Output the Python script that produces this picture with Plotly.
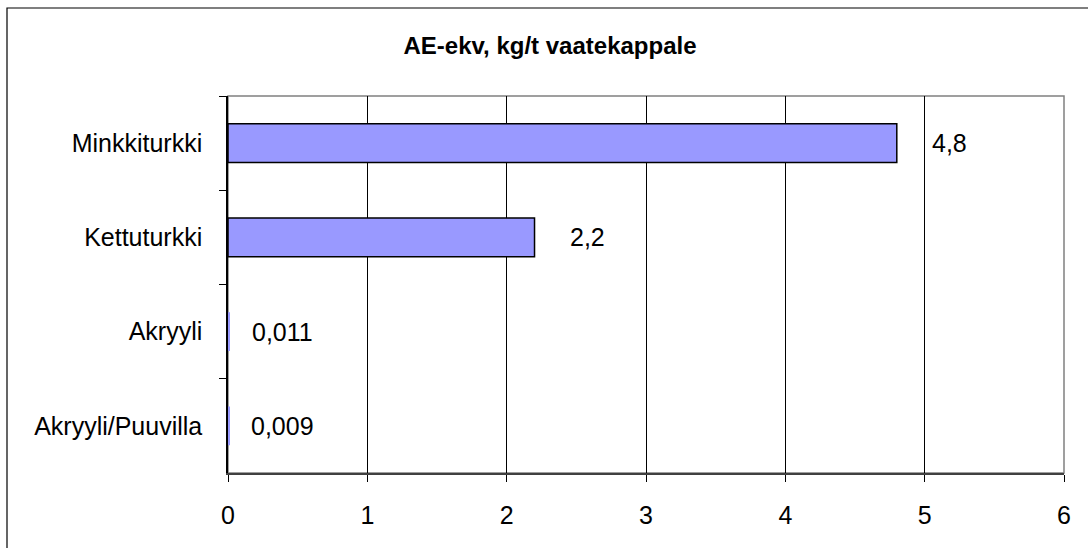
import plotly.graph_objects as go

categories = ["Minkkiturkki", "Kettuturkki", "Akryyli", "Akryyli/Puuvilla"]
values = [4.8, 2.2, 0.011, 0.009]
value_labels = ["4,8", "2,2", "0,011", "0,009"]
x_ticks = [0, 1, 2, 3, 4, 5, 6]

FONT = "Liberation Sans, Arial, sans-serif"
FS = 25

fig = go.Figure()
fig.add_trace(go.Bar(
    y=categories, x=values, orientation="h",
    width=0.41,
    marker=dict(color="#9999FF",
                line=dict(color="black", width=[1.5 if v > 0.1 else 0 for v in values])),
    hoverinfo="x+y",
))

for c, v, t in zip(categories, values, value_labels):
    fig.add_annotation(x=v, y=c, text=t, showarrow=False, xanchor="center",
                       xshift=53, font=dict(family=FONT, size=FS, color="black"))

L, R, T, B = 228, 24, 96, 75
W, H = 1088, 548
pw, ph = W - L - R, H - T - B

def px(x):
    return (x - L) / pw

def py(y):
    return (H - B - y) / ph

# outer chart frame
fig.add_shape(type="rect", xref="paper", yref="paper",
              x0=px(7), x1=px(1095), y0=py(555), y1=py(8),
              line=dict(color="black", width=1.2), layer="below")
# plot area frame (top/right gray)
fig.add_shape(type="rect", xref="paper", yref="paper",
              x0=0, x1=1, y0=0, y1=1,
              line=dict(color="#808080", width=1.5), layer="below")

fig.update_layout(
    width=W, height=H,
    margin=dict(l=L, r=R, t=T, b=B),
    paper_bgcolor="white", plot_bgcolor="white",
    showlegend=False,
    title=dict(text="<b>AE-ekv, kg/t vaatekappale</b>", x=550 / W, xanchor="center",
               y=1 - 46 / H, yanchor="middle",
               font=dict(family=FONT, size=24, color="black")),
    font=dict(family=FONT, size=FS, color="black"),
)
fig.update_xaxes(range=[0, 6], tickvals=x_ticks, ticktext=[str(v) for v in x_ticks],
                 showgrid=True, gridcolor="black", gridwidth=1,
                 showline=True, linecolor="#404040", linewidth=1.5,
                 ticks="outside", ticklen=7, tickcolor="black", tickwidth=1,
                 ticklabelstandoff=12,
                 zeroline=False, tickfont=dict(family=FONT, size=FS), fixedrange=True)
fig.update_yaxes(autorange="reversed", type="category",
                 showline=True, linecolor="black", linewidth=1.5,
                 ticks="outside", ticklen=7, tickcolor="black", tickwidth=1,
                 tickson="boundaries", showgrid=False,
                 ticklabelstandoff=19,
                 tickfont=dict(family=FONT, size=FS), fixedrange=True)

fig.write_html("out.html", config={"displayModeBar": False},
               post_script="document.body.style.margin='0';")
